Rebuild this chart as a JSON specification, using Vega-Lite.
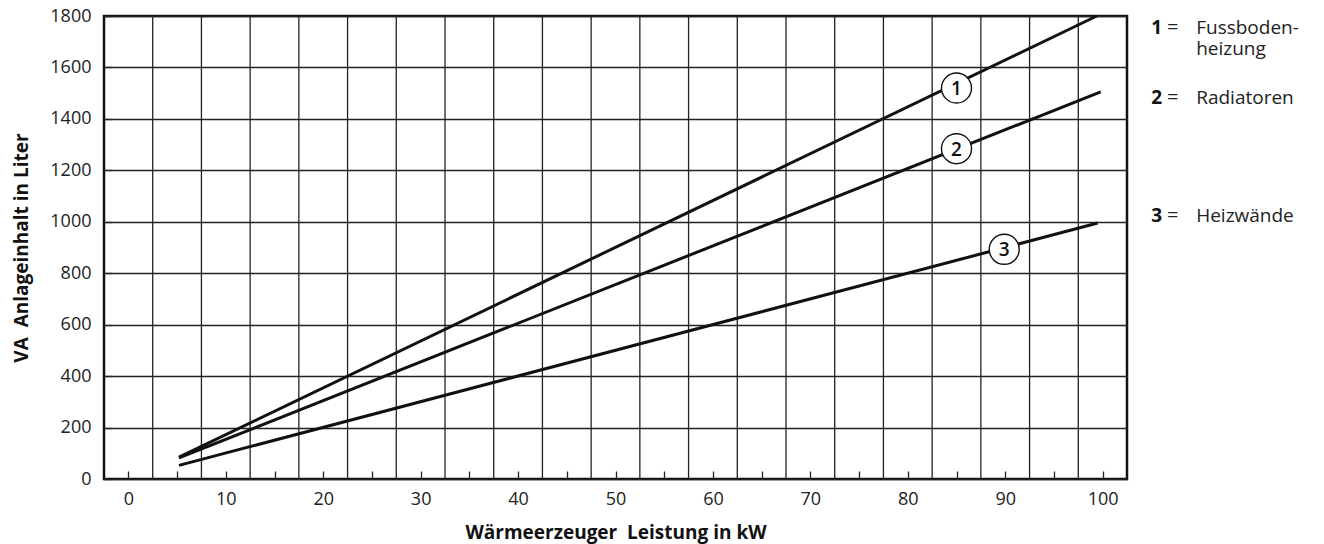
{
  "$schema": "https://vega.github.io/schema/vega-lite/v6.json",
  "width": 1023,
  "height": 463,
  "autosize": {"type": "none"},
  "padding": {"left": 104, "top": 16, "right": 197, "bottom": 65},
  "background": "white",
  "config": {
    "font": "Open Sans",
    "view": {"stroke": "#111111", "strokeWidth": 2.5},
    "axis": {
      "domain": false,
      "labelFont": "Open Sans",
      "labelFontSize": 18,
      "labelColor": "#222222",
      "titleFont": "Open Sans",
      "titleFontSize": 19,
      "titleFontWeight": "bold",
      "titleColor": "#111111",
      "tickColor": "#222222",
      "tickWidth": 1.3,
      "gridColor": "#222222",
      "gridWidth": 1.3,
      "labelFlush": false,
      "labelOverlap": false,
      "labelBound": false
    }
  },
  "datasets": {
    "raster": [
      {"gitter": 2.5}, {"gitter": 7.5}, {"gitter": 12.5}, {"gitter": 17.5}, {"gitter": 22.5},
      {"gitter": 27.5}, {"gitter": 32.5}, {"gitter": 37.5}, {"gitter": 42.5}, {"gitter": 47.5},
      {"gitter": 52.5}, {"gitter": 57.5}, {"gitter": 62.5}, {"gitter": 67.5}, {"gitter": 72.5},
      {"gitter": 77.5}, {"gitter": 82.5}, {"gitter": 87.5}, {"gitter": 92.5}, {"gitter": 97.5}
    ],
    "kurven": [
      {"kurve": "1", "leistung": 5.2, "inhalt": 85},
      {"kurve": "1", "leistung": 99.4, "inhalt": 1800},
      {"kurve": "2", "leistung": 5.2, "inhalt": 82},
      {"kurve": "2", "leistung": 99.8, "inhalt": 1505},
      {"kurve": "3", "leistung": 5.2, "inhalt": 53},
      {"kurve": "3", "leistung": 99.5, "inhalt": 995}
    ],
    "marken": [
      {"kurve": "1", "leistung": 85, "inhalt": 1520},
      {"kurve": "2", "leistung": 85, "inhalt": 1284},
      {"kurve": "3", "leistung": 89.9, "inhalt": 893}
    ],
    "legende": [
      {"nr": "1", "gleich": "=", "text": "Fussboden-", "inhalt": 1731},
      {"nr": "", "gleich": "", "text": "heizung", "inhalt": 1650},
      {"nr": "2", "gleich": "=", "text": "Radiatoren", "inhalt": 1457},
      {"nr": "3", "gleich": "=", "text": "Heizwände", "inhalt": 998}
    ]
  },
  "layer": [
    {
      "data": {"name": "raster"},
      "mark": {"type": "rule", "color": "#222222", "strokeWidth": 1.3},
      "encoding": {
        "x": {
          "field": "gitter",
          "type": "quantitative",
          "title": "Wärmeerzeuger\u00a0 Leistung in kW",
          "scale": {"domain": [-2.5, 102.5], "nice": false, "zero": false},
          "axis": {
            "values": [0, 5, 10, 15, 20, 25, 30, 35, 40, 45, 50, 55, 60, 65, 70, 75, 80, 85, 90, 95, 100],
            "labelExpr": "datum.value % 10 === 0 ? format(datum.value, 'd') : ''",
            "tickSize": -8,
            "grid": false,
            "labelPadding": 19,
            "titlePadding": 15
          }
        }
      }
    },
    {
      "data": {"name": "kurven"},
      "mark": {"type": "line", "color": "#111111", "strokeWidth": 3},
      "encoding": {
        "x": {"field": "leistung", "type": "quantitative"},
        "y": {
          "field": "inhalt",
          "type": "quantitative",
          "title": "VA\u00a0 Anlageinhalt in Liter",
          "scale": {"domain": [0, 1800], "nice": false},
          "axis": {
            "values": [0, 50, 100, 150, 200, 250, 300, 350, 400, 450, 500, 550, 600, 650, 700, 750, 800, 850, 900, 950, 1000, 1050, 1100, 1150, 1200, 1250, 1300, 1350, 1400, 1450, 1500, 1550, 1600, 1650, 1700, 1750, 1800],
            "labelExpr": "datum.value % 200 === 0 ? format(datum.value, 'd') : ''",
            "tickSize": -8,
            "grid": true,
            "gridOpacity": {"condition": {"test": "datum.value % 200 === 0", "value": 1}, "value": 0},
            "labelPadding": 21,
            "titlePadding": 18
          }
        },
        "detail": {"field": "kurve"}
      }
    },
    {
      "data": {"name": "marken"},
      "mark": {"type": "point", "shape": "circle", "size": 900, "filled": true, "fill": "white", "stroke": "#111111", "strokeWidth": 1.4, "opacity": 1},
      "encoding": {
        "x": {"field": "leistung", "type": "quantitative"},
        "y": {"field": "inhalt", "type": "quantitative"}
      }
    },
    {
      "data": {"name": "marken"},
      "mark": {"type": "text", "font": "Open Sans", "fontSize": 19, "fontWeight": 600, "color": "#111111", "align": "center", "baseline": "middle", "dy": 1},
      "encoding": {
        "x": {"field": "leistung", "type": "quantitative"},
        "y": {"field": "inhalt", "type": "quantitative"},
        "text": {"field": "kurve"}
      }
    },
    {
      "data": {"name": "legende"},
      "mark": {"type": "text", "font": "Open Sans", "fontSize": 19, "fontWeight": "bold", "color": "#111111", "align": "left", "baseline": "alphabetic"},
      "encoding": {
        "x": {"datum": 105.0, "type": "quantitative"},
        "y": {"field": "inhalt", "type": "quantitative"},
        "text": {"field": "nr"}
      }
    },
    {
      "data": {"name": "legende"},
      "mark": {"type": "text", "font": "Open Sans", "fontSize": 20, "color": "#222222", "align": "left", "baseline": "alphabetic"},
      "encoding": {
        "x": {"datum": 106.6, "type": "quantitative"},
        "y": {"field": "inhalt", "type": "quantitative"},
        "text": {"field": "gleich"}
      }
    },
    {
      "data": {"name": "legende"},
      "mark": {"type": "text", "font": "Open Sans", "fontSize": 19, "color": "#222222", "align": "left", "baseline": "alphabetic"},
      "encoding": {
        "x": {"datum": 109.6, "type": "quantitative"},
        "y": {"field": "inhalt", "type": "quantitative"},
        "text": {"field": "text"}
      }
    }
  ]
}
